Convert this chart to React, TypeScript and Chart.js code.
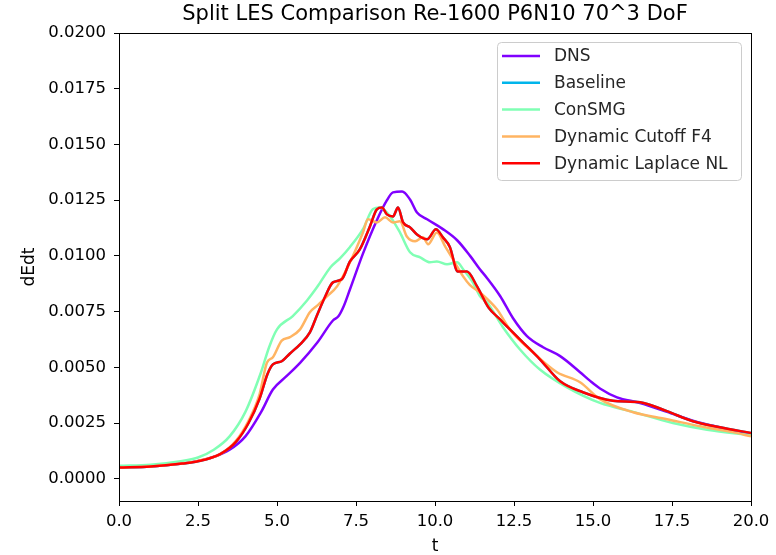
import { useEffect, useRef } from 'react';
import { Chart, registerables } from 'chart.js';

Chart.register(...registerables);

const chartTitle = 'Split LES Comparison Re-1600 P6N10 70^3 DoF';
const xLabel = 't';
const yLabel = 'dEdt';

const seriesNames = ['DNS', 'Baseline', 'ConSMG', 'Dynamic Cutoff F4', 'Dynamic Laplace NL'];
const seriesColors = ['#8000ff', '#00b5eb', '#80ffb4', '#ffb462', '#ff0000'];

const tDNS = [0, 1, 2, 2.5, 3, 3.5, 4, 4.5, 4.87, 5.3, 5.73, 6.27, 6.77, 6.95, 7.1, 7.31, 7.72, 8.16, 8.48, 8.67, 8.96, 9.21, 9.43, 9.75, 10.25, 10.7, 11.11, 11.42, 11.65, 12.06, 12.47, 12.91, 13.42, 13.96, 14.59, 14.9, 15.22, 15.76, 16.49, 17.34, 18.16, 19.02, 20];
const dns = [0.0005, 0.00055, 0.00068, 0.0008, 0.00098, 0.0013, 0.0019, 0.003, 0.004, 0.0046, 0.0052, 0.0061, 0.0071, 0.0073, 0.0077, 0.0085, 0.0101, 0.0116, 0.0125, 0.01285, 0.01289, 0.01253, 0.01195, 0.01164, 0.0112, 0.0107, 0.01, 0.0094, 0.009, 0.0082, 0.0072, 0.0064, 0.0059, 0.0055, 0.00478, 0.0044, 0.00405, 0.00365, 0.0034, 0.003, 0.0026, 0.0023, 0.002];

const tBaseline = [0, 1, 2, 2.5, 3.2, 3.7, 4.1, 4.45, 4.7, 4.87, 5.15, 5.41, 5.73, 6.04, 6.27, 6.5, 6.77, 7.05, 7.31, 7.62, 7.94, 8.16, 8.32, 8.48, 8.67, 8.83, 8.99, 9.21, 9.43, 9.75, 10.03, 10.25, 10.47, 10.72, 11.01, 11.33, 11.7, 12.06, 12.37, 12.78, 13.32, 13.96, 14.68, 15.63, 16.49, 17.34, 18.16, 19.02, 20];
const baseline = [0.0005, 0.00055, 0.00068, 0.00078, 0.0011, 0.00165, 0.0025, 0.0036, 0.0047, 0.00513, 0.00527, 0.00562, 0.00603, 0.00657, 0.00735, 0.0081, 0.00881, 0.00895, 0.00975, 0.01029, 0.01132, 0.01209, 0.01217, 0.01186, 0.01177, 0.01217, 0.0115, 0.01128, 0.01096, 0.01074, 0.01119, 0.01083, 0.0104, 0.0093, 0.0093, 0.00863, 0.00767, 0.00715, 0.0067, 0.00612, 0.00536, 0.00437, 0.00388, 0.0035, 0.00343, 0.00303, 0.00258, 0.00231, 0.00205];

const tConSMG = [0, 1, 2, 2.5, 3.0, 3.5, 4.0, 4.5, 4.75, 5.0, 5.5, 5.95, 6.27, 6.7, 7.0, 7.31, 7.72, 8.04, 8.26, 8.58, 8.89, 9.21, 9.53, 9.84, 10.06, 10.38, 10.7, 10.89, 11.2, 11.42, 11.65, 12.15, 12.69, 13.32, 14.18, 15.22, 16.27, 17.53, 18.61, 20];
const conSMG = [0.00058, 0.00063, 0.0008, 0.00095, 0.0013, 0.0019, 0.003, 0.0048, 0.0059, 0.0067, 0.0073, 0.008, 0.0086, 0.0095, 0.0099, 0.0104, 0.0112, 0.0121, 0.01217, 0.01177, 0.01105, 0.01016, 0.00993, 0.00971, 0.00975, 0.00962, 0.00971, 0.0094, 0.0088, 0.0082, 0.0079, 0.0068, 0.0058, 0.0049, 0.0041, 0.0034, 0.003, 0.0025, 0.0022, 0.00195];

const tCutoff = [0, 1, 2, 2.5, 3.2, 3.7, 4.1, 4.45, 4.68, 4.87, 5.15, 5.41, 5.73, 6.04, 6.3, 6.58, 6.9, 7.31, 7.72, 7.88, 8.16, 8.42, 8.67, 8.89, 9.11, 9.37, 9.62, 9.78, 10.06, 10.32, 10.57, 10.89, 11.1, 11.42, 11.96, 12.37, 13.1, 13.86, 14.59, 15.22, 16.27, 17.34, 18.39, 19.43, 20];
const cutoff = [0.0005, 0.00055, 0.00068, 0.0008, 0.0011, 0.0017, 0.0026, 0.0038, 0.0052, 0.00545, 0.0062, 0.00635, 0.0067, 0.00747, 0.0078, 0.00818, 0.00863, 0.00971, 0.01105, 0.01164, 0.0115, 0.01173, 0.0115, 0.01155, 0.01087, 0.01065, 0.01083, 0.01052, 0.01105, 0.01043, 0.00984, 0.00908, 0.0087, 0.00836, 0.0076, 0.0067, 0.00567, 0.00478, 0.00433, 0.00357, 0.00298, 0.00267, 0.00235, 0.00209, 0.0019];

const tLaplace = [0, 1, 2, 2.5, 3.2, 3.7, 4.1, 4.45, 4.7, 4.87, 5.15, 5.41, 5.73, 6.04, 6.27, 6.5, 6.77, 7.05, 7.31, 7.62, 7.94, 8.16, 8.32, 8.48, 8.67, 8.83, 8.99, 9.21, 9.43, 9.75, 10.03, 10.25, 10.47, 10.72, 11.01, 11.33, 11.7, 12.06, 12.37, 12.78, 13.32, 13.96, 14.68, 15.63, 16.49, 17.34, 18.16, 19.02, 20];
const laplace = [0.0005, 0.00055, 0.00068, 0.00078, 0.0011, 0.00165, 0.0025, 0.0036, 0.0047, 0.00513, 0.00527, 0.00562, 0.00603, 0.00657, 0.00735, 0.0081, 0.00881, 0.00895, 0.00975, 0.01029, 0.01132, 0.01209, 0.01217, 0.01186, 0.01177, 0.01217, 0.0115, 0.01128, 0.01096, 0.01074, 0.01119, 0.01083, 0.0104, 0.0093, 0.0093, 0.00863, 0.00767, 0.00715, 0.0067, 0.00612, 0.00536, 0.00437, 0.00388, 0.0035, 0.00343, 0.00303, 0.00258, 0.00231, 0.00205];

const xTicks = [0, 2.5, 5, 7.5, 10, 12.5, 15, 17.5, 20];
const yTicks = [0, 0.0025, 0.005, 0.0075, 0.01, 0.0125, 0.015, 0.0175, 0.02];

const FONT = "'DejaVu Sans', 'Noto Sans', sans-serif";

const seriesT = [tDNS, tBaseline, tConSMG, tCutoff, tLaplace];
const seriesV = [dns, baseline, conSMG, cutoff, laplace];

const framePlugin = {
  id: 'frame',
  afterDatasetsDraw(chart: any) {
    const { ctx, chartArea } = chart;
    ctx.save();
    ctx.strokeStyle = '#000';
    ctx.lineWidth = 1;
    ctx.strokeRect(
      Math.round(chartArea.left) + 0.5,
      Math.round(chartArea.top) + 0.5,
      Math.round(chartArea.right - chartArea.left),
      Math.round(chartArea.bottom - chartArea.top)
    );
    ctx.restore();
  },
};

const titlePlugin = {
  id: 'axTitle',
  afterDraw(chart: any) {
    const { ctx, chartArea } = chart;
    ctx.save();
    ctx.font = `21px ${FONT}`;
    ctx.fillStyle = '#000';
    ctx.textAlign = 'center';
    ctx.textBaseline = 'middle';
    ctx.fillText(chartTitle, (chartArea.left + chartArea.right) / 2, 15);
    ctx.restore();
  },
};

const legendPlugin = {
  id: 'boxLegend',
  afterDraw(chart: any) {
    const { ctx } = chart;
    const x0 = 497, y0 = 42, w = 244, h = 138;
    ctx.save();
    ctx.beginPath();
    if (ctx.roundRect) ctx.roundRect(x0 + 0.5, y0 + 0.5, w, h, 4);
    else ctx.rect(x0 + 0.5, y0 + 0.5, w, h);
    ctx.fillStyle = 'rgba(255,255,255,0.8)';
    ctx.fill();
    ctx.strokeStyle = '#cccccc';
    ctx.lineWidth = 1;
    ctx.stroke();
    ctx.font = `17px ${FONT}`;
    ctx.textBaseline = 'middle';
    ctx.textAlign = 'left';
    chart.data.datasets.forEach((ds: any, i: number) => {
      const y = 56 + i * 26.8;
      ctx.strokeStyle = ds.borderColor;
      ctx.lineWidth = 2.5;
      ctx.beginPath();
      ctx.moveTo(502, y);
      ctx.lineTo(540, y);
      ctx.stroke();
      ctx.fillStyle = '#262626';
      ctx.fillText(ds.label, 554, y + 1);
    });
    ctx.restore();
  },
};

export default function App() {
  const ref = useRef<HTMLCanvasElement | null>(null);
  useEffect(() => {
    if (!ref.current) return;
    const datasets = seriesNames.map((name, i) => ({
      label: name,
      data: seriesT[i].map((t, j) => ({ x: t, y: seriesV[i][j] })),
      borderColor: seriesColors[i],
      backgroundColor: seriesColors[i],
      borderWidth: 2.5,
      pointRadius: 0,
      fill: false,
      cubicInterpolationMode: 'monotone' as const,
      order: seriesNames.length - 1 - i,
    }));
    const chart = new Chart(ref.current, {
      type: 'line',
      data: { datasets },
      plugins: [framePlugin, titlePlugin, legendPlugin],
      options: {
        animation: false,
        responsive: false,
        devicePixelRatio: 1,
        layout: { padding: { top: 33, right: 25, left: 0, bottom: 0 } },
        plugins: { legend: { display: false }, tooltip: { enabled: false }, title: { display: false } },
        scales: {
          x: {
            type: 'linear',
            min: 0,
            max: 20,
            afterFit: (s: any) => { s.height = 54; },
            afterBuildTicks: (s: any) => { s.ticks = xTicks.map((v) => ({ value: v })); },
            ticks: {
              callback: (v: any) => Number(v).toFixed(1),
              font: { family: FONT, size: 16.5 },
              color: '#000',
              padding: 6,
              maxRotation: 0,
              autoSkip: false,
            },
            grid: { drawOnChartArea: false, drawTicks: true, tickLength: 5, color: '#000' },
            border: { display: true, color: '#000', width: 1 },
            title: { display: true, text: xLabel, color: '#000', font: { family: FONT, size: 17, lineHeight: 1 }, padding: { top: 0, bottom: 0 } },
          },
          y: {
            type: 'linear',
            min: -0.001,
            max: 0.02,
            afterFit: (s: any) => { s.width = 119; },
            afterBuildTicks: (s: any) => { s.ticks = yTicks.map((v) => ({ value: v })); },
            ticks: {
              callback: (v: any) => Number(v).toFixed(4),
              font: { family: FONT, size: 16.5 },
              color: '#000',
              padding: 8,
              autoSkip: false,
            },
            grid: { drawOnChartArea: false, drawTicks: true, tickLength: 5, color: '#000' },
            border: { display: true, color: '#000', width: 1 },
            title: { display: true, text: yLabel, color: '#000', font: { family: FONT, size: 17, lineHeight: 1 }, padding: { top: 21, bottom: 0 } },
          },
        },
      },
    });
    return () => chart.destroy();
  }, []);
  return (
    <div style={{ position: 'absolute', left: 0, top: 0, width: 776, height: 555, background: '#fff' }}>
      <canvas ref={ref} width={776} height={555} style={{ width: 776, height: 555, display: 'block' }} />
    </div>
  );
}
